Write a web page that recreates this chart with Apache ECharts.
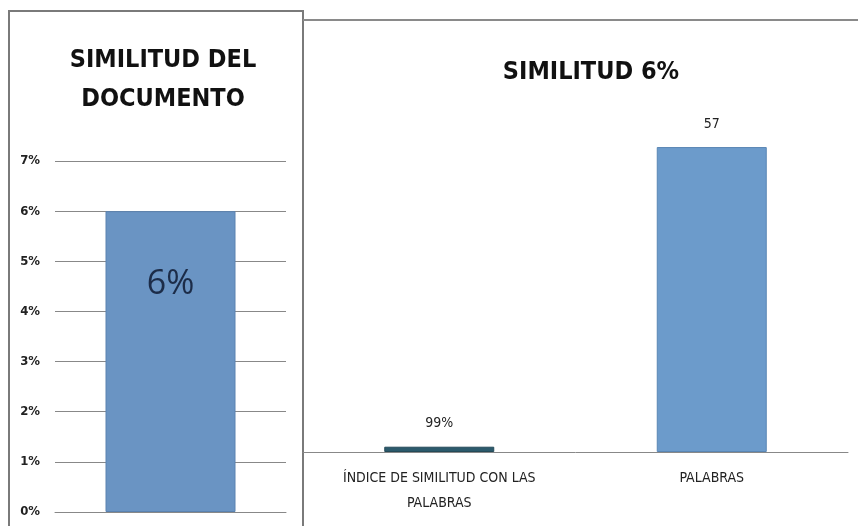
<!DOCTYPE html>
<html>
<head>
<meta charset="utf-8">
<script src="https://cdn.jsdelivr.net/npm/echarts@6/dist/echarts.min.js"></script>
<style>
html,body{margin:0;padding:0;background:#fff;}
#c{width:858px;height:526px;}
</style>
</head>
<body>
<div id="c"></div>
<script>
// ---- data ----
var leftTitle = 'SIMILITUD DEL\nDOCUMENTO';
var leftCategories = [''];
var leftValues = [6];
var leftLabels = ['6%'];
var leftTicks = [0, 1, 2, 3, 4, 5, 6, 7];

var rightTitle = 'SIMILITUD 6%';
var rightCategories = ['ÍNDICE DE SIMILITUD CON LAS\nPALABRAS', 'PALABRAS'];
var rightValues = [0.99, 57];
var rightLabels = ['99%', '57'];

var FONT = '"DejaVu Sans Condensed", "Liberation Sans Narrow", "Liberation Sans", sans-serif';

var chart = echarts.init(document.getElementById('c'), null, {renderer: 'canvas'});
chart.setOption({
  backgroundColor: '#ffffff',
  animation: false,
  title: [
    {text: leftTitle, left: 158, top: 36, textAlign: 'center',
     textStyle: {fontFamily: FONT, fontWeight: 'bold', fontSize: 25, lineHeight: 39, color: '#111'}},
    {text: rightTitle, left: 586, top: 55, textAlign: 'center',
     textStyle: {fontFamily: FONT, fontWeight: 'bold', fontSize: 25, color: '#111'}}
  ],
  graphic: [
    {type: 'polyline', shape: {points: [[9, 526], [9, 11], [303, 11], [303, 526]]},
     style: {stroke: '#7a7a7a', lineWidth: 2, fill: null}},
    {type: 'line', shape: {x1: 303, y1: 20, x2: 858, y2: 20},
     style: {stroke: '#8a8a8a', lineWidth: 2}}
  ],
  grid: [
    {left: 55, width: 231, top: 161, height: 351},
    {left: 303, width: 545, top: 131, height: 321}
  ],
  xAxis: [
    {type: 'category', gridIndex: 0, data: leftCategories,
     axisLine: {show: true, lineStyle: {color: '#888', width: 1}},
     axisTick: {show: false}, axisLabel: {show: false}},
    {type: 'category', gridIndex: 1, data: rightCategories,
     axisLine: {show: true, lineStyle: {color: '#888', width: 1}},
     axisTick: {show: false},
     axisLabel: {fontFamily: FONT, fontSize: 14, color: '#222', lineHeight: 25, margin: 14}}
  ],
  yAxis: [
    {type: 'value', gridIndex: 0, min: leftTicks[0], max: leftTicks[leftTicks.length - 1], interval: 1,
     axisLine: {show: false}, axisTick: {show: false},
     splitLine: {lineStyle: {color: '#888', width: 1}},
     axisLabel: {fontFamily: FONT, fontWeight: 'bold', fontSize: 13, color: '#222', margin: 15,
                 formatter: function (v) { return v + '%'; }}},
    {type: 'value', gridIndex: 1, min: 0, max: 60, show: false, splitLine: {show: false}}
  ],
  series: [
    {type: 'bar', xAxisIndex: 0, yAxisIndex: 0, data: leftValues, barWidth: 130,
     itemStyle: {color: '#6a94c3', borderColor: '#5a82b0', borderWidth: 1},
     label: {show: true, position: ['50%', 73], align: 'center', verticalAlign: 'middle',
             fontFamily: '"Open Sans", "Noto Sans", sans-serif', fontSize: 34, color: '#1c2c48',
             formatter: function (p) { return leftLabels[p.dataIndex]; }}},
    {type: 'bar', xAxisIndex: 1, yAxisIndex: 1, barWidth: 110,
     data: rightValues.map(function (v, i) {
       return {value: v, itemStyle: {color: i === 0 ? '#2c5a6c' : '#6c9bcb', borderColor: i === 0 ? '#244a58' : '#5a86b4', borderWidth: 1}};
     }),
     label: {show: true, position: 'top', distance: 16, fontFamily: FONT, fontSize: 14, color: '#222',
             formatter: function (p) { return rightLabels[p.dataIndex]; }}}
  ]
});
</script>
</body>
</html>
